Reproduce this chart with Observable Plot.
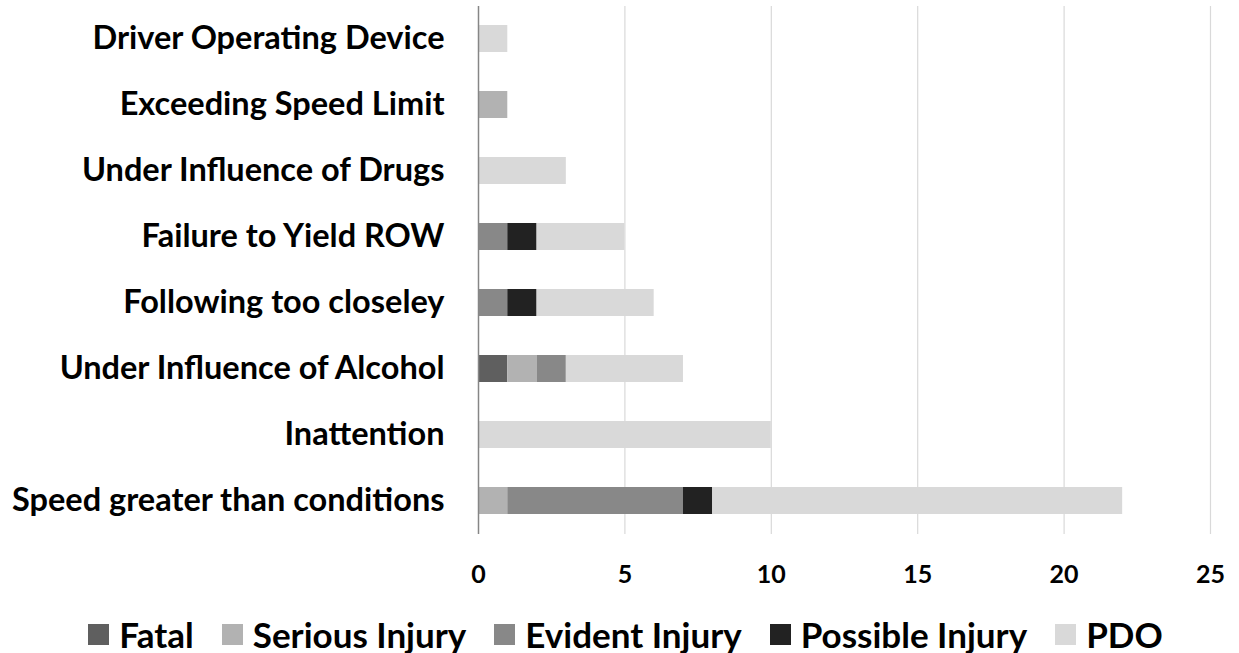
<!DOCTYPE html>
<html>
<head>
<meta charset="utf-8">
<script src="https://cdn.jsdelivr.net/npm/d3@7"></script>
<script src="https://cdn.jsdelivr.net/npm/@observablehq/plot@0.6"></script>
<style>
  html, body { margin: 0; padding: 0; background: #fff; }
  body { width: 1239px; height: 653px; overflow: hidden; font-family: Lato, "Open Sans", sans-serif; position: relative; }
  #legend { position: absolute; left: 6px; top: 612px; width: 1239px; display: flex; justify-content: center; align-items: center; height: 44px; font-weight: bold; font-size: 35px; color: #000; }
  .item { display: flex; align-items: center; margin: 0 14px; }
  .sw { width: 21px; height: 21px; margin-right: 10px; }
</style>
</head>
<body>
<div id="chart"></div>
<div id="legend"></div>
<script>
const causes = [
  "Driver Operating Device",
  "Exceeding Speed Limit",
  "Under Influence of Drugs",
  "Failure to Yield ROW",
  "Following too closeley",
  "Under Influence of Alcohol",
  "Inattention",
  "Speed greater than conditions"
];
const severities = ["Fatal", "Serious Injury", "Evident Injury", "Possible Injury", "PDO"];
const colors = ["#5f5f5f", "#b2b2b2", "#888888", "#222222", "#d9d9d9"];
const fatal          = [0, 0, 0, 0, 0, 1, 0, 0];
const seriousInjury  = [0, 1, 0, 0, 0, 1, 0, 1];
const evidentInjury  = [0, 0, 0, 1, 1, 1, 0, 6];
const possibleInjury = [0, 0, 0, 1, 1, 0, 0, 1];
const pdo            = [1, 0, 3, 3, 4, 4, 10, 14];
const xTicks = [0, 5, 10, 15, 20, 25];

const series = [fatal, seriousInjury, evidentInjury, possibleInjury, pdo];
const data = [];
causes.forEach((c, i) => {
  severities.forEach((s, j) => {
    if (series[j][i] > 0) data.push({cause: c, severity: s, value: series[j][i]});
  });
});

const chart = Plot.plot({
  width: 1239,
  height: 600,
  marginLeft: 478,
  marginRight: 29,
  marginTop: 6,
  marginBottom: 66,
  style: {fontFamily: "Lato, 'Open Sans', sans-serif", color: "#000", background: "#fff"},
  x: {domain: [0, 25], ticks: xTicks},
  y: {domain: causes, paddingInner: 0.59, paddingOuter: 0.295, align: 0.5},
  color: {domain: severities, range: colors},
  marks: [
    Plot.gridX(xTicks.filter(d => d > 0), {stroke: "#d9d9d9", strokeOpacity: 1, strokeWidth: 1.2}),
    Plot.barX(data, Plot.stackX({x: "value", y: "cause", fill: "severity", order: severities})),
    Plot.ruleX([0], {stroke: "#868686", strokeWidth: 1.5}),
    Plot.axisX({ticks: xTicks, tickSize: 0, tickPadding: 31, fontSize: 25, fontWeight: "bold", label: null}),
    Plot.axisY({tickSize: 0, tickPadding: 34, fontSize: 32.5, fontWeight: "bold", label: null})
  ]
});
document.getElementById("chart").appendChild(chart);

const legend = document.getElementById("legend");
severities.forEach((s, i) => {
  const item = document.createElement("div");
  item.className = "item";
  const sw = document.createElement("div");
  sw.className = "sw";
  sw.style.background = colors[i];
  const t = document.createElement("span");
  t.textContent = s;
  item.appendChild(sw);
  item.appendChild(t);
  legend.appendChild(item);
});
</script>
</body>
</html>
